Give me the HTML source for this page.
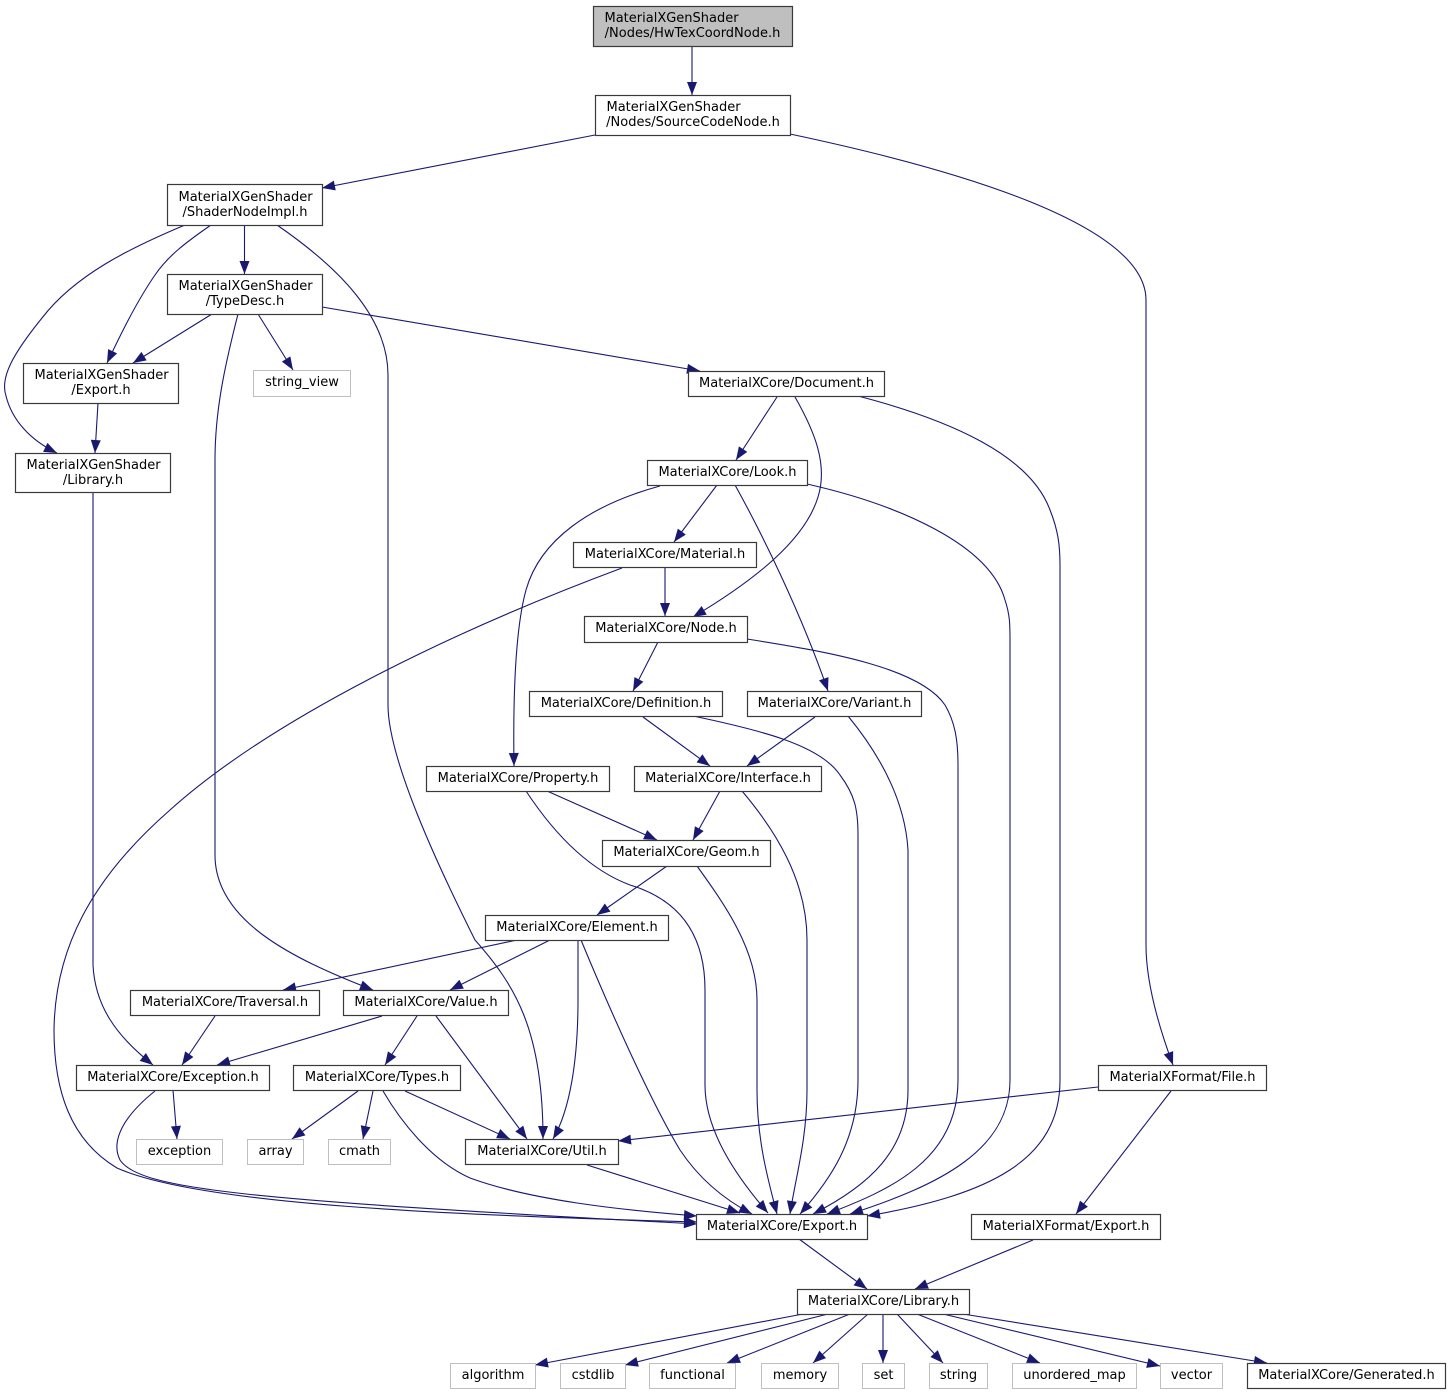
<!DOCTYPE html>
<html><head><meta charset="utf-8"><style>
html,body{margin:0;padding:0;background:#fff;}
svg{display:block;}
text{font-family:"DejaVu Sans","Liberation Sans",sans-serif;font-size:13px;fill:#000;}
.n{fill:#fff;stroke:#3a3a3a;stroke-width:1.2;}
.g{fill:#fff;stroke:#bfbfbf;stroke-width:1;}
.r{fill:#bfbfbf;stroke:#3a3a3a;stroke-width:1.2;}
.e{fill:none;stroke:#191970;stroke-width:1.1;marker-end:url(#a);}
</style></head><body>
<svg width="1450" height="1395" viewBox="0 0 1450 1395" xmlns="http://www.w3.org/2000/svg">
<defs>
<marker id="a" markerUnits="userSpaceOnUse" markerWidth="13" markerHeight="10" viewBox="0 0 13 10" refX="13" refY="5" orient="auto" overflow="visible">
<path d="M0,0 L13,5 L0,10 z" fill="#191970"/>
</marker>
</defs>

<!-- edges -->
<path class="e" d="M692,46 L692,95"/>
<path class="e" d="M595,135 L322,188"/>
<path class="e" d="M790,134 C960,170 1146,225 1146,300 L1146,945 C1146,985 1160,1030 1173,1065"/>
<path class="e" d="M244.5,225 L244.5,274"/>
<path class="e" d="M211,225 C185,243 168,256 155,275 C135,304 118,340 107,363"/>
<path class="e" d="M185,225 C130,248 75,275 42,318 C12,355 0,378 6,396 C12,420 30,440 57,453"/>
<path class="e" d="M277,225 C335,265 388,315 388,375 L388,705 C388,760 440,870 475,940 C515,985 543,1030 543,1139"/>
<path class="e" d="M212,314 L133,363"/>
<path class="e" d="M258,314 L293,370"/>
<path class="e" d="M238,314 C225,365 215,410 215,460 L215,855 C215,920 290,958 373,990"/>
<path class="e" d="M322,307 L700,371"/>
<path class="e" d="M98,403 L95,453"/>
<path class="e" d="M93,492 L93,965 C95,1005 115,1035 153,1065"/>
<path class="e" d="M622,568 C450,632 270,720 170,810 C90,880 55,950 54,1030 C54,1090 70,1140 117,1168 C200,1205 450,1215 697,1222"/>
<path class="e" d="M155,1091 C125,1115 110,1140 120,1160 C140,1190 250,1200 697,1224"/>
<path class="e" d="M777,397 L736,460"/>
<path class="e" d="M795,397 C815,432 828,465 818,497 C805,540 755,580 693,617"/>
<path class="e" d="M858,396 C950,420 1030,455 1050,510 C1058,530 1060,545 1060,565 L1060,1080 C1060,1160 990,1195 867,1216"/>
<path class="e" d="M717,485 L674,542"/>
<path class="e" d="M735,485 C760,530 800,610 828,691"/>
<path class="e" d="M660,486 C590,505 540,540 526,590 C515,630 513,700 514,766"/>
<path class="e" d="M807,484 C900,505 990,545 1005,600 C1010,615 1010,625 1010,640 L1010,1080 C1010,1150 940,1185 850,1214"/>
<path class="e" d="M665,567 L665,616"/>
<path class="e" d="M658,642 L633,691"/>
<path class="e" d="M747,639 C830,652 920,668 945,705 C955,722 958,740 958,765 L958,1080 C958,1160 890,1190 827,1214"/>
<path class="e" d="M643,717 L710,766"/>
<path class="e" d="M693,716 C760,730 820,745 840,775 C855,795 858,810 858,835 L858,1080 C858,1140 830,1180 800,1214"/>
<path class="e" d="M815,717 L747,766"/>
<path class="e" d="M848,716 C880,755 905,800 908,850 L908,1090 C908,1150 870,1185 813,1214"/>
<path class="e" d="M720,791 L693,840"/>
<path class="e" d="M742,791 C775,830 807,880 807,940 L807,1090 C807,1140 795,1180 790,1214"/>
<path class="e" d="M547,791 L657,840"/>
<path class="e" d="M526,791 C555,835 590,870 630,885 C680,900 705,935 705,990 L705,1085 C705,1130 735,1175 768,1213"/>
<path class="e" d="M667,866 L597,915"/>
<path class="e" d="M697,866 C725,905 757,950 757,1000 L757,1090 C757,1140 768,1180 777,1214"/>
<path class="e" d="M517,940 L283,990"/>
<path class="e" d="M550,940 L450,990"/>
<path class="e" d="M578,940 L578,1000 C578,1060 570,1110 553,1139"/>
<path class="e" d="M581,940 C610,1010 650,1100 680,1150 C700,1180 725,1200 752,1214"/>
<path class="e" d="M215,1016 L182,1065"/>
<path class="e" d="M382,1016 L217,1065"/>
<path class="e" d="M417,1016 L385,1065"/>
<path class="e" d="M436,1016 L527,1139"/>
<path class="e" d="M173,1090 L177,1139"/>
<path class="e" d="M358,1091 L292,1139"/>
<path class="e" d="M373,1091 L363,1139"/>
<path class="e" d="M405,1091 L510,1139"/>
<path class="e" d="M383,1091 C400,1120 430,1160 470,1178 C530,1200 620,1210 697,1216"/>
<path class="e" d="M587,1165 L740,1213"/>
<path class="e" d="M1098,1087 L618,1141"/>
<path class="e" d="M1171,1091 L1076,1214"/>
<path class="e" d="M1033,1240 L915,1289"/>
<path class="e" d="M799,1239 L867,1289"/>
<path class="e" d="M803,1314 L535,1365"/>
<path class="e" d="M828,1314 L625,1365"/>
<path class="e" d="M850,1314 L727,1363"/>
<path class="e" d="M868,1314 L813,1363"/>
<path class="e" d="M883,1314 L883,1363"/>
<path class="e" d="M897,1314 L943,1363"/>
<path class="e" d="M917,1314 L1040,1363"/>
<path class="e" d="M943,1314 L1160,1366"/>
<path class="e" d="M963,1314 L1267,1363"/>

<!-- nodes -->
<rect class="r" x="593.5" y="6.5" width="199" height="40"/>
<text x="604.5" y="22">MaterialXGenShader</text>
<text x="692.5" y="37" text-anchor="middle">/Nodes/HwTexCoordNode.h</text>

<rect class="n" x="595.5" y="95.5" width="195" height="40"/>
<text x="606.5" y="111">MaterialXGenShader</text>
<text x="693" y="126" text-anchor="middle">/Nodes/SourceCodeNode.h</text>

<rect class="n" x="167.5" y="184.5" width="155" height="41"/>
<text x="178.5" y="201">MaterialXGenShader</text>
<text x="245" y="216" text-anchor="middle">/ShaderNodeImpl.h</text>

<rect class="n" x="167.5" y="274.5" width="155" height="40"/>
<text x="178.5" y="290">MaterialXGenShader</text>
<text x="245" y="305" text-anchor="middle">/TypeDesc.h</text>

<rect class="n" x="23.5" y="363.5" width="155" height="40"/>
<text x="34.5" y="379">MaterialXGenShader</text>
<text x="101" y="394" text-anchor="middle">/Export.h</text>

<rect class="n" x="15.5" y="453.5" width="155" height="39"/>
<text x="26.5" y="469">MaterialXGenShader</text>
<text x="93" y="484" text-anchor="middle">/Library.h</text>

<rect class="g" x="253.5" y="370.5" width="97" height="26"/>
<text x="302" y="386" text-anchor="middle">string_view</text>

<rect class="n" x="688.5" y="371.5" width="196" height="25"/>
<text x="786.5" y="387" text-anchor="middle">MaterialXCore/Document.h</text>

<rect class="n" x="647.5" y="460.5" width="160" height="25"/>
<text x="727.5" y="476" text-anchor="middle">MaterialXCore/Look.h</text>

<rect class="n" x="573.5" y="542.5" width="183" height="25"/>
<text x="665" y="558" text-anchor="middle">MaterialXCore/Material.h</text>

<rect class="n" x="584.5" y="616.5" width="163" height="26"/>
<text x="666" y="632" text-anchor="middle">MaterialXCore/Node.h</text>

<rect class="n" x="529.5" y="691.5" width="193" height="25"/>
<text x="626" y="707" text-anchor="middle">MaterialXCore/Definition.h</text>

<rect class="n" x="747.5" y="691.5" width="174" height="25"/>
<text x="834.5" y="707" text-anchor="middle">MaterialXCore/Variant.h</text>

<rect class="n" x="426.5" y="766.5" width="183" height="25"/>
<text x="518" y="782" text-anchor="middle">MaterialXCore/Property.h</text>

<rect class="n" x="634.5" y="766.5" width="187" height="25"/>
<text x="728" y="782" text-anchor="middle">MaterialXCore/Interface.h</text>

<rect class="n" x="602.5" y="840.5" width="168" height="26"/>
<text x="686.5" y="856" text-anchor="middle">MaterialXCore/Geom.h</text>

<rect class="n" x="485.5" y="915.5" width="183" height="25"/>
<text x="577" y="931" text-anchor="middle">MaterialXCore/Element.h</text>

<rect class="n" x="130.5" y="990.5" width="189" height="25"/>
<text x="225" y="1006" text-anchor="middle">MaterialXCore/Traversal.h</text>

<rect class="n" x="343.5" y="990.5" width="165" height="25"/>
<text x="426" y="1006" text-anchor="middle">MaterialXCore/Value.h</text>

<rect class="n" x="76.5" y="1065.5" width="193" height="25"/>
<text x="173" y="1081" text-anchor="middle">MaterialXCore/Exception.h</text>

<rect class="n" x="293.5" y="1065.5" width="167" height="25"/>
<text x="377" y="1081" text-anchor="middle">MaterialXCore/Types.h</text>

<rect class="n" x="1098.5" y="1065.5" width="168" height="25"/>
<text x="1182.5" y="1081" text-anchor="middle">MaterialXFormat/File.h</text>

<rect class="g" x="136.5" y="1139.5" width="86" height="25"/>
<text x="179.5" y="1155" text-anchor="middle">exception</text>

<rect class="g" x="247.5" y="1139.5" width="56" height="25"/>
<text x="275.5" y="1155" text-anchor="middle">array</text>

<rect class="g" x="328.5" y="1139.5" width="62" height="25"/>
<text x="359.5" y="1155" text-anchor="middle">cmath</text>

<rect class="n" x="465.5" y="1139.5" width="153" height="25"/>
<text x="542" y="1155" text-anchor="middle">MaterialXCore/Util.h</text>

<rect class="n" x="696.5" y="1214.5" width="171" height="25"/>
<text x="782" y="1230" text-anchor="middle">MaterialXCore/Export.h</text>

<rect class="n" x="971.5" y="1214.5" width="189" height="25"/>
<text x="1066" y="1230" text-anchor="middle">MaterialXFormat/Export.h</text>

<rect class="n" x="797.5" y="1289.5" width="172" height="25"/>
<text x="883.5" y="1305" text-anchor="middle">MaterialXCore/Library.h</text>

<rect class="g" x="450.5" y="1363.5" width="85" height="25"/>
<text x="493" y="1379" text-anchor="middle">algorithm</text>

<rect class="g" x="560.5" y="1363.5" width="65" height="25"/>
<text x="593" y="1379" text-anchor="middle">cstdlib</text>

<rect class="g" x="649.5" y="1363.5" width="86" height="25"/>
<text x="692.5" y="1379" text-anchor="middle">functional</text>

<rect class="g" x="761.5" y="1363.5" width="77" height="25"/>
<text x="800" y="1379" text-anchor="middle">memory</text>

<rect class="g" x="862.5" y="1363.5" width="42" height="25"/>
<text x="883.5" y="1379" text-anchor="middle">set</text>

<rect class="g" x="929.5" y="1363.5" width="58" height="25"/>
<text x="958.5" y="1379" text-anchor="middle">string</text>

<rect class="g" x="1012.5" y="1363.5" width="124" height="25"/>
<text x="1074.5" y="1379" text-anchor="middle">unordered_map</text>

<rect class="g" x="1160.5" y="1363.5" width="62" height="25"/>
<text x="1191.5" y="1379" text-anchor="middle">vector</text>

<rect class="n" x="1247.5" y="1363.5" width="198" height="25"/>
<text x="1346.5" y="1379" text-anchor="middle">MaterialXCore/Generated.h</text>
</svg>
</body></html>
